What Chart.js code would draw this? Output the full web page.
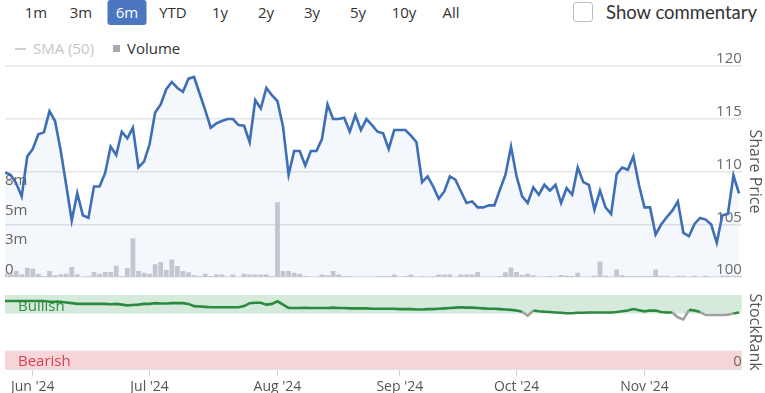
<!DOCTYPE html>
<html><head><meta charset="utf-8">
<script src="https://cdn.jsdelivr.net/npm/chart.js@4/dist/chart.umd.min.js"></script>
<style>
html,body{margin:0;padding:0;}
body{width:765px;height:393px;overflow:hidden;background:#fff;font-family:"Open Sans",sans-serif;position:relative;}
.btn{position:absolute;top:0;height:25px;line-height:25px;font-size:15px;color:#333;text-align:center;transform:translateX(-50%);white-space:nowrap;}
.btn.active{background:#4a77c0;color:#fff;border-radius:3px;width:39px;}
#cb{position:absolute;left:573px;top:2px;width:18px;height:18px;border:1px solid #bdbdbd;border-radius:3px;background:#fff;}
#sc{position:absolute;left:606px;top:0;line-height:25px;font-family:Lato,sans-serif;font-size:18.5px;color:#333;white-space:nowrap;}
.lg{position:absolute;top:38px;line-height:20px;font-size:15px;white-space:nowrap;}
canvas{position:absolute;left:0;}
#cA{top:40px;}
#cB{top:286px;}
</style>
</head><body>
<div id="buttons"></div>
<div id="cb"></div><div id="sc">Show commentary</div>
<div style="position:absolute;left:15px;top:48px;width:11px;height:1.5px;background:#d0d0d0;"></div>
<div class="lg" style="left:33px;color:#c6c6c6;">SMA (50)</div>
<div style="position:absolute;left:113px;top:45px;width:7px;height:7px;background:#a9a9ae;"></div>
<div class="lg" style="left:127px;color:#333;">Volume</div>
<canvas id="cA" width="765" height="246"></canvas>
<canvas id="cB" width="765" height="111"></canvas>
<script>
// ---- data ----
const rangeButtons = ["1m","3m","6m","YTD","1y","2y","3y","5y","10y","All"];
const activeButton = "6m";
const monthTickIdx = [5, 26, 49, 71, 92, 115];
const monthLabels = ["Jun '24","Jul '24","Aug '24","Sep '24","Oct '24","Nov '24"];
const priceTicks = [100, 105, 110, 115, 120];
const volumeTicks = [0, 2.5, 5, 7.5]; // millions
const sharePrice = [
109.91,109.69,108.90,107.64,111.42,112.14,113.52,113.71,115.72,114.78,
112.04,108.74,105.35,107.95,105.85,105.60,108.58,108.58,109.84,112.36,
111.57,113.77,113.14,114.15,110.38,110.94,112.58,115.59,116.35,117.80,
118.49,117.92,117.55,118.80,118.96,117.39,115.82,114.15,114.56,114.78,
114.97,114.97,114.40,114.34,112.77,116.76,115.97,117.92,117.23,116.67,
114.25,109.69,111.95,111.95,110.57,111.95,111.95,113.08,116.35,114.97,
114.97,115.09,113.77,115.35,113.93,114.97,114.40,113.77,113.62,112.14,
113.93,113.93,113.93,113.40,112.77,108.99,109.53,108.58,107.42,108.11,
109.53,109.22,108.11,107.01,107.17,106.60,106.60,106.79,106.79,108.27,
109.69,112.36,109.53,107.64,107.01,108.49,107.80,108.74,108.18,108.74,
107.01,108.43,107.80,110.38,108.99,108.74,106.38,108.18,106.60,105.97,
109.75,110.38,110.16,111.42,108.74,106.60,106.60,104.03,104.97,105.66,
106.29,107.17,104.18,103.87,105.03,105.60,105.44,104.97,103.24,105.85,
105.97,109.62,107.92];
const volumeM = [
0.3,0.3,0.5,0.22,0.78,0.69,0.28,0.06,0.5,0.14,
0.22,0.28,0.83,0.22,0,0.06,0.42,0.28,0.42,0.42,
0.94,0.06,0.75,3.25,0.5,0.36,0.28,1.06,1.25,0.61,
1.47,0.92,0.5,0.4,0.14,0.08,0.28,0.08,0.2,0.2,
0,0.2,0,0.28,0.2,0.2,0.2,0.2,0.08,6.25,
0.5,0.5,0.36,0.28,0.08,0,0,0.2,0.14,0.5,
0.2,0.06,0.06,0,0,0,0,0.06,0.06,0.06,
0.2,0,0.06,0.2,0,0.06,0,0.06,0.2,0.2,
0.2,0,0.2,0.2,0.2,0.42,0,0,0,0.06,
0.4,0.8,0.42,0.17,0.28,0.14,0,0,0.08,0,
0.17,0.1,0.08,0.36,0,0,0.1,1.3,0.1,0,
0.62,0.14,0.08,0.08,0.08,0.08,0.08,0.62,0.1,0.1,
0,0.1,0.1,0,0.1,0,0.1,0,0,0.1,
0.1,0.1,0.1];
const stockRank = [
92,92,92,92,92,92,92,92,91,91,
91,90,89,88,88,88,88,88,88,87.5,
88,87,86,86.5,87,88,88,89,88.5,88.5,
89,89,89,88,85,84.5,84,83.5,83.5,83.5,
83.5,83.5,83.5,85,89,89.5,89.5,87,88,91.5,
87,82.5,82.5,82.5,82.6,82.5,82.5,82.5,82.5,83,
82.5,82.5,82,82,82,82,81.5,81.5,81.5,81.5,
81.5,81,81,81,80.5,80.5,81,81,81.5,82,
82.5,83,83.5,83,83,82.5,82,81.5,81.5,81,
80.5,80,79,77.5,72,79,78,77.5,77,76.5,
76,75.5,75.5,76,76,76.5,76.5,76.5,76.5,76.5,
77,78,79,81,79.5,78,79,79,77,76.5,
76.5,70,67,80,79,77,73,73,73,73,
73.5,75,76.5];
const bullishBand = [75, 100];
const bearishBand = [0, 25];

// ---- buttons ----
const btnCenters = [36, 81, 127, 173, 220, 266, 312, 358, 404, 451];
const bw = document.getElementById('buttons');
rangeButtons.forEach((b, i) => {
  const d = document.createElement('div');
  d.className = 'btn' + (b === activeButton ? ' active' : '');
  d.style.left = btnCenters[i] + 'px';
  d.textContent = b;
  bw.appendChild(d);
});

Chart.defaults.font.family = '"Open Sans", sans-serif';
const idx = sharePrice.map((_, i) => i);
const xMax = 132.5;

new Chart(document.getElementById('cA'), {
  data: {
    datasets: [
      { type: 'line', data: idx.map(i => ({x: i, y: sharePrice[i]})), yAxisID: 'y',
        borderColor: '#3d6eb6', borderWidth: 2.6, pointRadius: 0, tension: 0,
        fill: 'start', backgroundColor: 'rgba(61,110,182,0.055)', order: 1 },
      { type: 'bar', data: idx.map(i => ({x: i, y: volumeM[i]})), yAxisID: 'yv',
        backgroundColor: '#cbccd3', barPercentage: 0.86, categoryPercentage: 1, order: 2 }
    ]
  },
  options: {
    responsive: false, animation: false, events: [],
    layout: { padding: { top: 26, bottom: 8, left: 5, right: 0 } },
    plugins: { legend: { display: false }, tooltip: { enabled: false } },
    scales: {
      x: { type: 'linear', min: 0, max: xMax, display: false, offset: false, grid: { offset: false } },
      y: { position: 'right', min: 100, max: 120,
        afterBuildTicks: a => { a.ticks = priceTicks.map(v => ({value: v})); },
        ticks: { mirror: true, padding: 0, labelOffset: -7, color: '#6a6a6a', font: { size: 15 } },
        grid: { color: '#e6e6e8', lineWidth: 1.5, drawTicks: false },
        border: { display: false },
        title: { display: true, text: 'Share Price', color: '#555', font: { size: 16 }, padding: { top: 1, bottom: 3 } } },
      yv: { position: 'left', min: 0, max: 17.67,
        afterBuildTicks: a => { a.ticks = volumeTicks.map(v => ({value: v})); },
        ticks: { mirror: true, padding: 0, labelOffset: -7, color: '#6a625c', font: { size: 15 },
          callback: v => v === 0 ? '0' : Math.round(v) + 'm' },
        grid: { display: false, drawTicks: false }, border: { display: false } }
    }
  }
});

const bandPlugin = {
  id: 'bands',
  beforeDraw(chart) {
    const {ctx, chartArea: {left, right}, scales: {y}} = chart;
    ctx.save();
    const yb1 = y.getPixelForValue(bullishBand[1]), yb0 = y.getPixelForValue(bullishBand[0]);
    const yr1 = y.getPixelForValue(bearishBand[1]), yr0 = y.getPixelForValue(bearishBand[0]);
    ctx.fillStyle = '#d5eadb';
    ctx.fillRect(left, yb1, right - left, yb0 - yb1);
    ctx.fillStyle = '#f6d6d8';
    ctx.fillRect(left, yr1, right - left, yr0 - yr1);
    ctx.font = '15px "Open Sans", sans-serif';
    ctx.textBaseline = 'middle';
    ctx.fillStyle = '#2e8b45';
    ctx.fillText('Bullish', left + 13, (yb0 + yb1) / 2 + 2);
    ctx.fillStyle = '#d64156';
    ctx.fillText('Bearish', left + 13, (yr0 + yr1) / 2 + 2);
    ctx.restore();
  }
};

new Chart(document.getElementById('cB'), {
  type: 'line',
  data: {
    datasets: [{ data: idx.map(i => ({x: i, y: stockRank[i]})),
      borderColor: '#2b8a3e', borderWidth: 2.6, pointRadius: 0, tension: 0,
      segment: { borderColor: c => (c.p0.parsed.y < 75 || c.p1.parsed.y < 75) ? '#a0a0a0' : '#2b8a3e' } }]
  },
  options: {
    responsive: false, animation: false, events: [],
    layout: { padding: { top: 7, bottom: 0, left: 5, right: 0 } },
    plugins: { legend: { display: false }, tooltip: { enabled: false } },
    scales: {
      x: { type: 'linear', min: 0, max: xMax,
        afterBuildTicks: a => { a.ticks = monthTickIdx.map(v => ({value: v})); },
        ticks: { autoSkip: false, maxRotation: 0, padding: 2, color: '#555', font: { size: 14 },
          callback: v => monthLabels[monthTickIdx.indexOf(v)] },
        grid: { drawOnChartArea: false, drawTicks: true, tickLength: 7, color: '#d0d0d0' },
        border: { display: true, color: '#e2e2e2' } },
      y: { position: 'right', min: 0, max: 100,
        afterBuildTicks: a => { a.ticks = [{value: 0}]; },
        ticks: { mirror: true, padding: 0, labelOffset: -7, color: '#6a6a6a', font: { size: 15 } },
        grid: { display: false, drawTicks: false }, border: { display: false },
        title: { display: true, text: 'StockRank', color: '#555', font: { size: 16 }, padding: { top: 1, bottom: 3 } } }
    }
  },
  plugins: [bandPlugin]
});
</script>
</body></html>
